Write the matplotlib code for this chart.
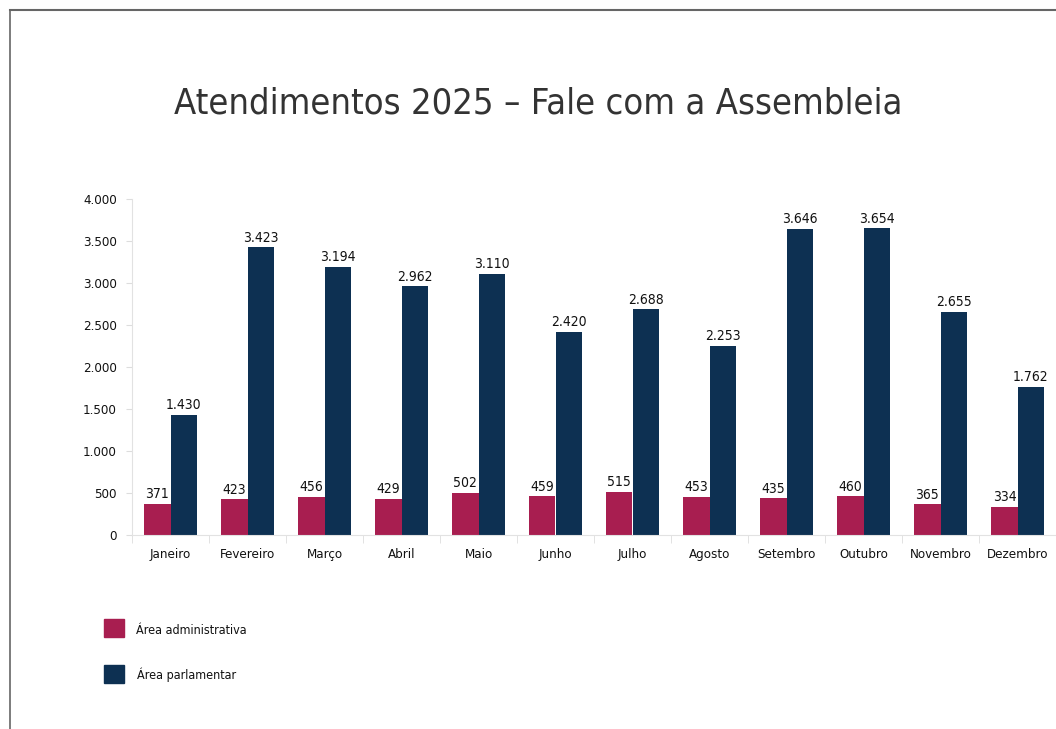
import matplotlib
matplotlib.use("Agg")
import matplotlib.pyplot as plt
from matplotlib import font_manager
from matplotlib.lines import Line2D
from matplotlib.patches import Rectangle
import numpy as np

# dados
meses = ["Janeiro", "Fevereiro", "Março", "Abril", "Maio", "Junho",
         "Julho", "Agosto", "Setembro", "Outubro", "Novembro", "Dezembro"]
area_administrativa = [371, 423, 456, 429, 502, 459, 515, 453, 435, 460, 365, 334]
area_parlamentar = [1430, 3423, 3194, 2962, 3110, 2420, 2688, 2253, 3646, 3654, 2655, 1762]
yticks = [0, 500, 1000, 1500, 2000, 2500, 3000, 3500, 4000]
titulo = "Atendimentos 2025 – Fale com a Assembleia"

cor_adm = "#A81E50"
cor_parl = "#0D3052"

# fonte estreita, se houver
nomes = {f.name for f in font_manager.fontManager.ttflist}
if "Liberation Sans Narrow" in nomes:
    plt.rcParams["font.family"] = ["Liberation Sans Narrow", "DejaVu Sans"]
    stretch = "normal"
else:
    plt.rcParams["font.family"] = ["DejaVu Sans"]
    stretch = "condensed"
plt.rcParams["font.stretch"] = stretch


def fmt(v):
    return f"{v:,}".replace(",", ".")


fig = plt.figure(figsize=(10.56, 7.29), dpi=100)
ax = fig.add_axes([0.125, 0.2661, 0.875, 0.4609])

x = np.arange(len(meses))
w = 0.34
b1 = ax.bar(x - w / 2, area_administrativa, w, color=cor_adm)
b2 = ax.bar(x + w / 2, area_parlamentar, w, color=cor_parl)

for rect, v in zip(b1, area_administrativa):
    ax.text(rect.get_x() + rect.get_width() / 2, v + 30, fmt(v),
            ha="center", va="bottom", fontsize=10, color="#111111")
for rect, v in zip(b2, area_parlamentar):
    ax.text(rect.get_x() + rect.get_width() / 2, v + 30, fmt(v),
            ha="center", va="bottom", fontsize=10, color="#111111")

ax.set_xlim(-0.5, len(meses) - 0.5)
ax.set_ylim(0, 4000)
ax.set_yticks(yticks)
ax.set_yticklabels([fmt(t) for t in yticks], fontsize=9.5, color="#111111")
ax.set_xticks(x)
ax.set_xticklabels(meses, fontsize=9.5, color="#111111")
ax.tick_params(axis="x", length=0, pad=9)
ax.tick_params(axis="y", length=4, color="#dddddd", pad=7)
# marcas entre os grupos
ax.set_xticks(np.arange(len(meses) + 1) - 0.5, minor=True)
ax.tick_params(axis="x", which="minor", length=6, color="#dddddd")

for s in ["top", "right"]:
    ax.spines[s].set_visible(False)
ax.spines["left"].set_color("#e2e2e2")
ax.spines["bottom"].set_color("#e2e2e2")

fig.text(0.51, 0.858, titulo, ha="center", va="center", fontsize=26, color="#333333")

# legenda
fig.add_artist(Rectangle((104 / 1056, 1 - 637 / 729), 20 / 1056, 18 / 729,
                         transform=fig.transFigure, color=cor_adm))
fig.add_artist(Rectangle((104 / 1056, 1 - 683 / 729), 20 / 1056, 18 / 729,
                         transform=fig.transFigure, color=cor_parl))
fig.text(136 / 1056, 1 - 630 / 729, "Área administrativa", va="center", fontsize=9, color="#111111")
fig.text(137 / 1056, 1 - 675 / 729, "Área parlamentar", va="center", fontsize=9, color="#111111")

# moldura
fig.add_artist(Line2D([10 / 1056, 1], [1 - 10 / 729, 1 - 10 / 729], transform=fig.transFigure,
                      color="#666666", lw=1.5))
fig.add_artist(Line2D([10 / 1056, 10 / 1056], [0, 1 - 10 / 729], transform=fig.transFigure,
                      color="#666666", lw=1.2))

fig.savefig("out.png", dpi=100)
